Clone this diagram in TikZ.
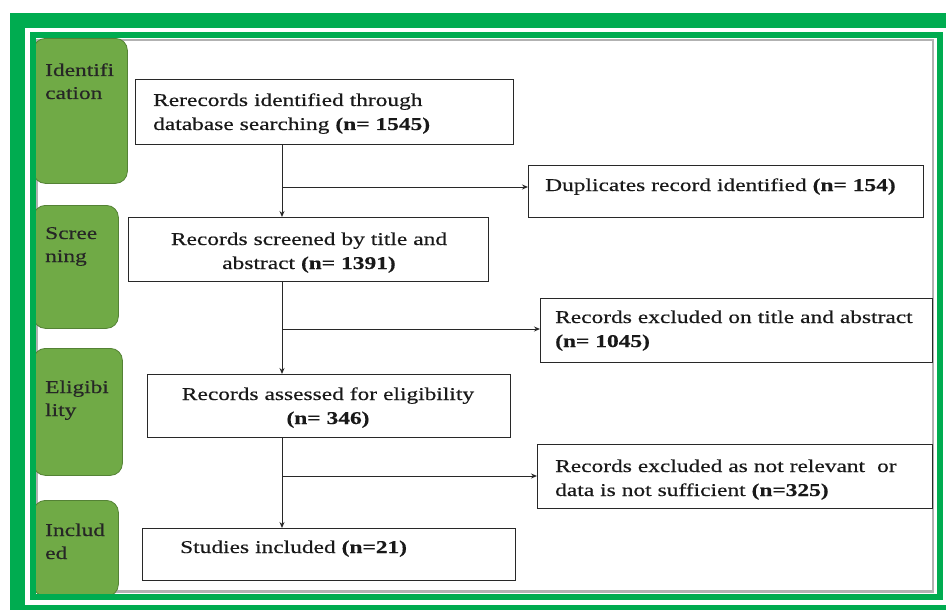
\documentclass[tikz,border=0pt]{standalone}
\usepackage{fontspec}
\setmainfont{Liberation Serif}[FakeStretch=1.3,FakeBold=0.4]
\usetikzlibrary{arrows.meta}
\definecolor{frameg}{RGB}{0,172,80}
\definecolor{stagefill}{RGB}{112,170,70}
\definecolor{stageedge}{RGB}{84,130,53}
\definecolor{linec}{RGB}{40,40,40}
\begin{document}
\begin{tikzpicture}[x=1pt,y=-1pt,
  box/.style={draw=linec, line width=1.3pt, fill=white, inner sep=0pt, anchor=north west},
  stage/.style={draw=stageedge, line width=0.8pt, fill=stagefill, rounded corners=12pt, inner sep=0pt, anchor=north west},
  txt/.style={font=\fontsize{18}{24}\selectfont, text=black!90, inner sep=0pt, anchor=base west, text width=400pt, align=left},
  ctxt/.style={font=\fontsize{18}{24}\selectfont, text=black!90, inner sep=0pt, anchor=base, text width=380pt, align=center},
  stxt/.style={font=\fontsize{18}{23}\selectfont, text=black!85, inner sep=0pt, anchor=base west, text width=90pt, align=left},
  arr/.style={draw=linec, line width=1pt, -{Stealth[length=6pt,width=5pt]}},
]
\useasboundingbox (0,0) rectangle (946,610);
\fill[white] (0,0) rectangle (946,610);
% inner shadow
\draw[black!30, line width=2.5pt] (36.8,39.8) rectangle (933.2,591.7);
% stage boxes
\node[stage, minimum width=94pt, minimum height=145pt] (sid) at (33,38) {};
\node[stage, minimum width=85pt, minimum height=123pt] (sscr) at (33,205) {};
\node[stage, minimum width=89pt, minimum height=127pt] (selg) at (33,348) {};
\node[stage, minimum width=85pt, minimum height=96pt] (sinc) at (33,500) {};
\node[stxt] (tid) at (45,76) {Identifi\\cation};
\node[stxt] (tscr) at (45,239) {Scree\\ning};
\node[stxt] (telg) at (45,393) {Eligibi\\lity};
\node[stxt] (tinc) at (45,536) {Includ\\ed};
% frames
\draw[frameg, line width=15pt] (17.5,20.5) rectangle (960,612.5);
\draw[frameg, line width=6pt] (32.5,35.5) rectangle (939.5,596.5);
% main boxes
\node[box, minimum width=378pt, minimum height=65pt] (b1) at (135,79) {};
\node[box, minimum width=395pt, minimum height=52pt] (dup) at (528,165) {};
\node[box, minimum width=360pt, minimum height=64pt] (b2) at (128,217) {};
\node[box, minimum width=392pt, minimum height=64pt] (ex1) at (540,298) {};
\node[box, minimum width=363pt, minimum height=63pt] (b3) at (147,374) {};
\node[box, minimum width=395pt, minimum height=64pt] (ex2) at (537,444) {};
\node[box, minimum width=373pt, minimum height=52pt] (b4) at (142,528) {};
% texts
\node[txt] (t1) at (153,106) {Rerecords identified through\\database searching \textbf{(n= 1545)}};
\node[txt] (tdup) at (545,191) {Duplicates record identified \textbf{(n= 154)}};
\node[ctxt] (t2) at (309,245) {Records screened by title and\\abstract \textbf{(n= 1391)}};
\node[txt] (tex1) at (555,323) {Records excluded on title and abstract\\\textbf{(n= 1045)}};
\node[ctxt] (t3) at (328,400) {Records assessed for eligibility\\\textbf{(n= 346)}};
\node[txt] (tex2) at (555,472) {Records excluded as not relevant\ \ or\\data is not sufficient \textbf{(n=325)}};
\node[txt] (t4) at (180,553) {Studies included \textbf{(n=21)}};
% connectors
\coordinate (v) at (282,0);
\coordinate (j1) at (282,187);
\coordinate (j2) at (282,329);
\coordinate (j3) at (282,476);
\draw[arr] (b1.south -| v) -- (b2.north -| v);
\draw[arr] (j1) -- (dup.west |- j1);
\draw[arr] (b2.south -| v) -- (b3.north -| v);
\draw[arr] (j2) -- (ex1.west |- j2);
\draw[arr] (b3.south -| v) -- (b4.north -| v);
\draw[arr] (j3) -- (ex2.west |- j3);
\end{tikzpicture}
\end{document}
